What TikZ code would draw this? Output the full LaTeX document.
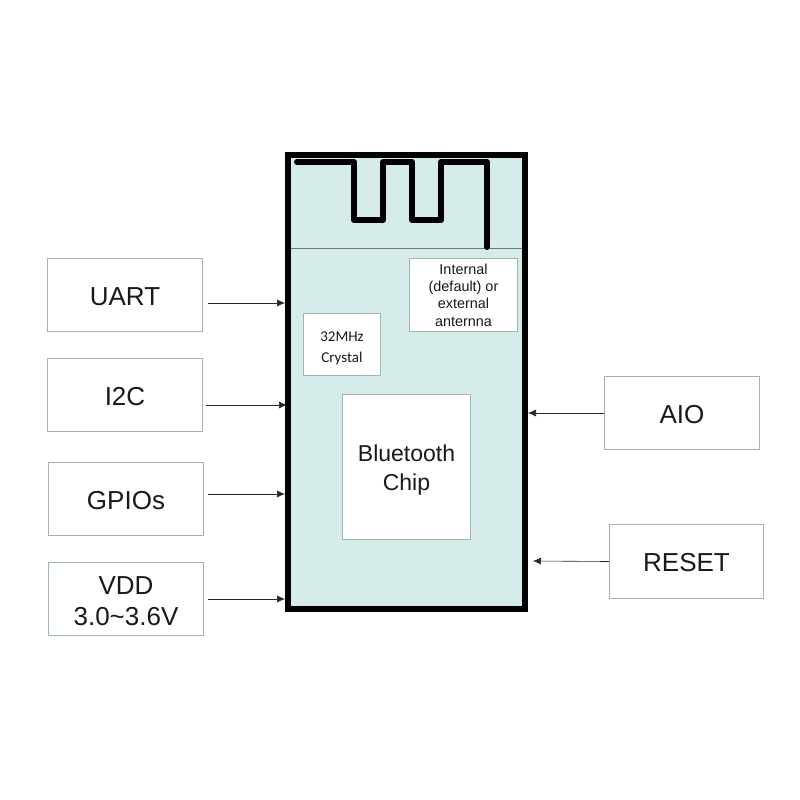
\documentclass[tikz,border=0pt]{standalone}
\usepackage{fontspec}
\setmainfont{Liberation Sans}
\newfontfamily\crystalfont{Carlito}
\usetikzlibrary{arrows.meta, positioning}
\definecolor{boxedge}{HTML}{A0B6B4}
\definecolor{chipfill}{HTML}{D6ECEA}

\begin{document}
\begin{tikzpicture}[
    x=1pt, y=-1pt,
    block/.style={rectangle, draw=boxedge, fill=white, line width=1.2pt, inner sep=0pt, align=center, text=black!90},
    pinbox/.style={block, minimum width=155pt, minimum height=73pt, font=\fontsize{26}{31}\selectfont},
    lowered/.style={text height=20.5pt},
    arrow/.style={-{Latex[length=8pt,width=7pt]}, line width=0.6pt, draw=black!85}
]
    \useasboundingbox (0,0) rectangle (800,800);
    \fill[white] (0,0) rectangle (800,800);

    % module outline
    \node[rectangle, draw=black, fill=chipfill, line width=6pt, inner sep=0pt, minimum width=237pt, minimum height=454pt] (chip) at (406.5,382) {};
    \draw[line width=0.8pt, draw=black!55] (291,248) -- (522,248);
    \draw[line width=6pt, line join=round, line cap=round] (297,162) -- (354,162) -- (354,220) -- (383,220) -- (383,162) -- (412,162) -- (412,220) -- (441,220) -- (441,162) -- (487,162) -- (487,247);

    % inside the module
    \node[block, minimum width=108pt, minimum height=73pt, font=\fontsize{14.4}{17.4}\selectfont] (antenna) at (463.5,295) {Internal\\(default) or\\external\\anternna};
    \node[block, minimum width=77pt, minimum height=62pt, font=\crystalfont\fontsize{15}{20.5}\selectfont] (crystal) at (342,344.5) {\rule{0pt}{17pt}32MHz\\Crystal};
    \node[block, minimum width=128pt, minimum height=145pt, font=\fontsize{23}{29}\selectfont] (bluetooth) at (406.5,467) {\rule{0pt}{23pt}Bluetooth\\Chip};

    % left side
    \node[pinbox, lowered] (uart) at (125,295) {UART};
    \node[pinbox, lowered] (itwoc) at (125,395) {I2C};
    \node[pinbox, lowered] (gpio) at (126,499) {GPIOs};
    \node[pinbox] (vdd) at (126,599) {\rule{0pt}{23pt}VDD\\3.0\textasciitilde3.6V};

    % right side
    \node[pinbox, lowered] (aio) at (682,413) {AIO};
    \node[pinbox, lowered, minimum width=154pt, minimum height=74pt] (reset) at (686.5,561.5) {RESET};

    \draw[arrow] ([xshift=5pt,yshift=-8pt]uart.east) -- ([yshift=79pt]chip.west);
    \draw[arrow] ([xshift=3pt,yshift=-10pt]itwoc.east) -- ([xshift=2pt,yshift=-23pt]chip.west);
    \draw[arrow] ([xshift=4pt,yshift=5pt]gpio.east) -- ([yshift=-112pt]chip.west);
    \draw[arrow] ([xshift=4pt]vdd.east) -- ([yshift=-217pt]chip.west);
    \draw[arrow] (aio.west) -- ([yshift=-31pt]chip.east);
    \draw[arrow] (reset.west) -- ([xshift=5pt,yshift=-179pt]chip.east);
\end{tikzpicture}
\end{document}
